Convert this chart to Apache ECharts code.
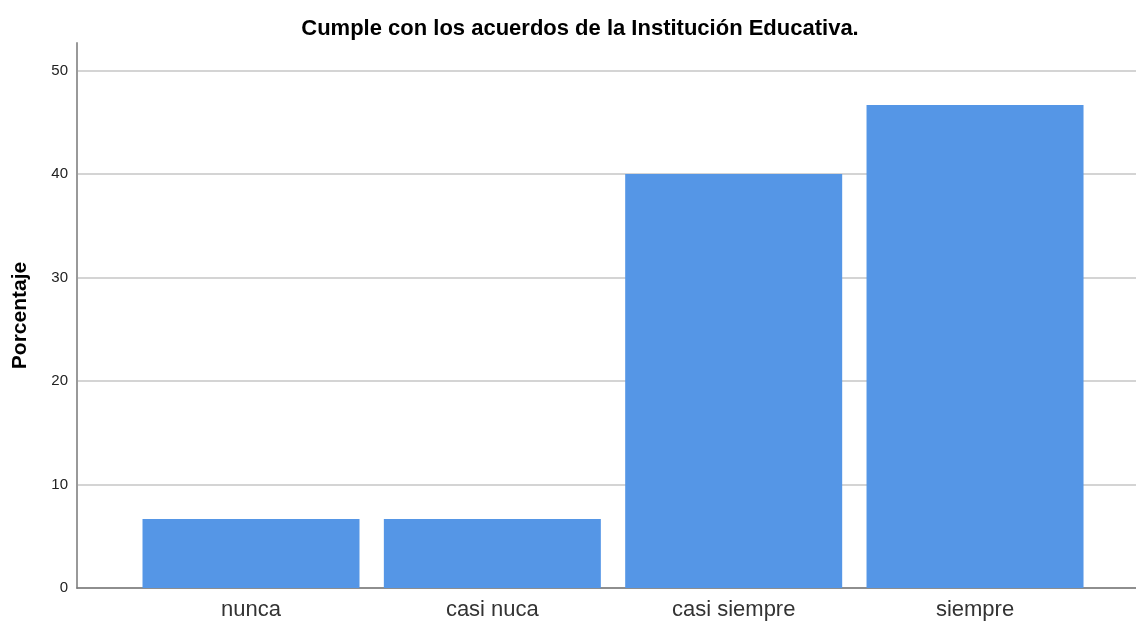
<!DOCTYPE html>
<html lang="es">
  <head>
    <meta charset="UTF-8" />
    <title>Cumple con los acuerdos</title>
    <script src="https://cdn.jsdelivr.net/npm/echarts@6/dist/echarts.min.js"></script>
    <style>
      html, body { margin: 0; padding: 0; background: #fff; }
    </style>
  </head>
  <body>
    <div id="main" style="width: 1136px; height: 624px"></div>
    <script type="text/javascript">
      // data
      const categories = ["nunca", "casi nuca", "casi siempre", "siempre"];
      const percentages = [6.67, 6.67, 40.0, 46.67];
      const yTicks = [0, 10, 20, 30, 40, 50];

      // bars placed on a value axis at positions 1..4 so the plot can keep the padding of the original
      const positions = categories.map((c, i) => i + 1);
      const barData = positions.map((p, i) => [p, percentages[i]]);

      const font = "'Liberation Sans', Arial, sans-serif";
      const grey = "#d4d4d4";
      const myChart = echarts.init(document.getElementById("main"));

      myChart.setOption({
        animation: false,
        title: {
          text: "Cumple con los acuerdos de la Institución Educativa.",
          left: 575,
          textAlign: "center",
          top: 13,
          textStyle: { fontFamily: font, fontSize: 22, fontWeight: "bold", color: "#000" },
        },
        grid: { left: 77, right: 0, top: 43, bottom: 36, outerBoundsMode: "none", containLabel: false },
        xAxis: {
          type: "value",
          min: 0.279,
          max: 4.667,
          axisLine: { show: true, lineStyle: { color: "#777", width: 1.5 } },
          axisTick: { show: false },
          splitLine: { show: false },
          axisLabel: {
            customValues: positions,
            formatter: (v) => categories[Math.round(v) - 1] || "",
            fontFamily: font,
            fontSize: 22,
            color: "#333",
            margin: 11,
          },
        },
        yAxis: {
          type: "value",
          name: "Porcentaje",
          nameLocation: "middle",
          nameGap: 46,
          nameTextStyle: { fontFamily: font, fontSize: 21, fontWeight: "bold", color: "#000" },
          min: 0,
          max: 52.65,
          interval: 10,
          axisLine: { show: true, lineStyle: { color: "#999", width: 2 } },
          axisTick: { show: false },
          axisLabel: {
            customValues: yTicks,
            fontFamily: font,
            fontSize: 15,
            color: "#222",
            margin: 9,
          },
          splitLine: {
            show: true,
            // last line sits on the axis max, keep it invisible
            lineStyle: { color: [grey, grey, grey, grey, grey, grey, "rgba(0,0,0,0)"], width: 2 },
          },
        },
        series: [
          {
            type: "bar",
            data: barData,
            barWidth: 217,
            itemStyle: { color: "#5596E6" },
          },
        ],
      });
    </script>
  </body>
</html>
